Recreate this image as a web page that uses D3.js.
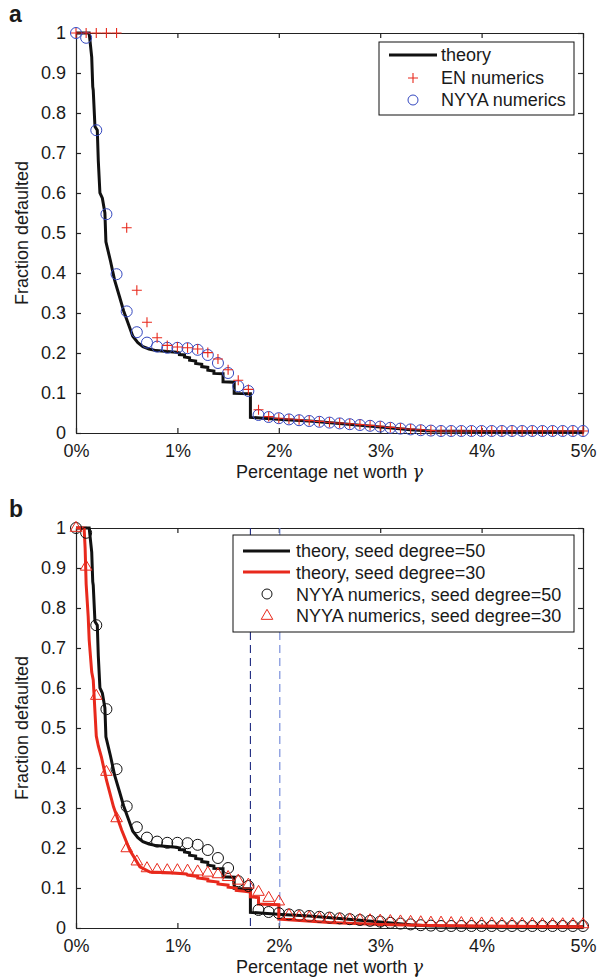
<!DOCTYPE html>
<html>
<head>
<meta charset="utf-8">
<script src="https://d3js.org/d3.v7.min.js"></script>
<style>
  body { margin: 0; background: #fff; }
  svg text { font-family: "Liberation Sans", Arial, Helvetica, sans-serif; fill: #1a1a1a; }
  .axis text { font-size: 18px; }
  .axis path, .axis line { stroke: #222; stroke-width: 1.2; }
</style>
</head>
<body>
<div class="chart"></div>
<script>
// ---- values (gamma in %, fraction defaulted) ----
var gamma = [0, 0.1, 0.2, 0.3, 0.4, 0.5, 0.6, 0.7, 0.8, 0.9,
  1.0, 1.1, 1.2, 1.3, 1.4, 1.5, 1.6, 1.7, 1.8, 1.9,
  2.0, 2.1, 2.2, 2.3, 2.4, 2.5, 2.6, 2.7, 2.8, 2.9,
  3.0, 3.1, 3.2, 3.3, 3.4, 3.5, 3.6, 3.7, 3.8, 3.9,
  4.0, 4.1, 4.2, 4.3, 4.4, 4.5, 4.6, 4.7, 4.8, 4.9, 5.0];

// EN numerics (red +), panel a
var enNumerics = [1, 1, 1, 1, 1, 0.513, 0.357, 0.277, 0.238, 0.219,
  0.215, 0.213, 0.21, 0.201, 0.185, 0.158, 0.132, 0.109, 0.058, 0.041,
  0.037, 0.035, 0.033, 0.031, 0.029, 0.027, 0.025, 0.023, 0.021, 0.019,
  0.017, 0.014, 0.012, 0.010, 0.008, 0.006, 0.005, 0.005, 0.005, 0.005,
  0.005, 0.005, 0.005, 0.005, 0.005, 0.005, 0.005, 0.005, 0.005, 0.005, 0.005];

// NYYA numerics, seed degree 50 (blue circles in a, black circles in b)
var nyya50 = [1, 0.988, 0.757, 0.547, 0.397, 0.304, 0.252, 0.226, 0.216, 0.213,
  0.213, 0.212, 0.208, 0.195, 0.175, 0.150, 0.117, 0.105, 0.045, 0.040,
  0.037, 0.034, 0.032, 0.030, 0.028, 0.026, 0.024, 0.022, 0.020, 0.018,
  0.016, 0.013, 0.011, 0.009, 0.007, 0.006, 0.005, 0.005, 0.005, 0.005,
  0.005, 0.005, 0.005, 0.005, 0.005, 0.005, 0.005, 0.005, 0.005, 0.005, 0.005];

// NYYA numerics, seed degree 30 (red triangles), panel b
var nyya30 = [1, 0.903, 0.58, 0.39, 0.274, 0.199, 0.166, 0.149, 0.145, 0.144,
  0.144, 0.143, 0.141, 0.138, 0.134, 0.127, 0.118, 0.108, 0.09, 0.075,
  0.066, 0.032, 0.028, 0.026, 0.024, 0.023, 0.022, 0.021, 0.020, 0.019,
  0.018, 0.017, 0.016, 0.015, 0.014, 0.013, 0.013, 0.012, 0.012, 0.011,
  0.011, 0.011, 0.010, 0.010, 0.010, 0.010, 0.009, 0.009, 0.009, 0.009, 0.009];

// theory curve, seed degree 50
var theory50X = [0, 0.13, 0.155, 0.165, 0.17, 0.187, 0.21, 0.22, 0.236, 0.26,
  0.285, 0.295, 0.34, 0.38, 0.43, 0.47, 0.52, 0.56, 0.61, 0.66,
  0.72, 0.79, 0.9, 0.99, 1.02, 1.02, 1.07, 1.07, 1.12, 1.12,
  1.18, 1.18, 1.24, 1.24, 1.3, 1.3, 1.36, 1.36, 1.45, 1.45,
  1.56, 1.56, 1.72, 1.72, 1.85, 2.03, 2.3, 2.6, 3.0, 3.3, 3.5, 4.0, 5.0];
var theory50Y = [1, 1, 0.94, 0.866, 0.857, 0.766, 0.757, 0.68, 0.6, 0.587,
  0.55, 0.478, 0.43, 0.383, 0.34, 0.305, 0.27, 0.242, 0.226, 0.216,
  0.21, 0.206, 0.204, 0.202, 0.2, 0.196, 0.195, 0.19, 0.188, 0.182,
  0.18, 0.174, 0.172, 0.166, 0.164, 0.157, 0.155, 0.149, 0.148, 0.128,
  0.127, 0.099, 0.098, 0.039, 0.037, 0.034, 0.03, 0.024, 0.015, 0.008, 0.005, 0.004, 0.003];

// theory curve, seed degree 30
var theory30X = [0, 0.08, 0.09, 0.1, 0.12, 0.13, 0.155, 0.17, 0.2, 0.22,
  0.25, 0.3, 0.37, 0.45, 0.53, 0.63, 0.73, 0.93, 1.09, 1.1,
  1.2, 1.2, 1.3, 1.3, 1.4, 1.4, 1.5, 1.5, 1.58, 1.58,
  1.66, 1.72, 1.72, 1.8, 1.8, 2.0, 2.0, 2.5, 3.0, 3.5, 5.0];
var theory30Y = [1, 1, 0.95, 0.86, 0.78, 0.72, 0.64, 0.62, 0.48, 0.455,
  0.428, 0.37, 0.303, 0.245, 0.195, 0.153, 0.14, 0.138, 0.135, 0.132,
  0.129, 0.125, 0.122, 0.118, 0.115, 0.11, 0.107, 0.102, 0.1, 0.094,
  0.092, 0.09, 0.078, 0.076, 0.06, 0.058, 0.022, 0.014, 0.009, 0.006, 0.003];

var xTicks = [0, 1, 2, 3, 4, 5];
var yTicks = [0, 0.1, 0.2, 0.3, 0.4, 0.5, 0.6, 0.7, 0.8, 0.9, 1];
var thresholds = [1.72, 2.01];

// dimensions
var svgWidth = 602;
var svgHeight = 978;
var left = 76;
var width = 507;
var height = 400;

var red = "#e8291c";
var blue = "#3448c0";

var svg = d3.select(".chart")
  .append("svg")
  .attr("width", svgWidth)
  .attr("height", svgHeight);

var x = d3.scaleLinear().domain([0, 5]).range([0, width]);
var y = d3.scaleLinear().domain([0, 1]).range([height, 0]);

var line = d3.line()
  .x(d => x(d[0]))
  .y(d => y(d[1]));

var plusPath = "M-5,0H5M0,-5V5";
var triangle = d3.symbol().type(d3.symbolTriangle).size(58);

function zipXY(xs, ys) {
  return xs.map((v, i) => [v, ys[i]]);
}

// box axes with inward ticks, like the original figure
function drawPanel(top, letter) {
  var g = svg.append("g").attr("transform", `translate(${left}, ${top})`);

  g.append("g").attr("class", "axis")
    .attr("transform", `translate(0, ${height})`)
    .call(d3.axisBottom(x).tickValues(xTicks).tickSize(-5).tickSizeOuter(0)
      .tickPadding(11).tickFormat(d => d + "%"));
  g.append("g").attr("class", "axis")
    .call(d3.axisTop(x).tickValues(xTicks).tickSize(-5).tickSizeOuter(0).tickFormat(""));
  g.append("g").attr("class", "axis")
    .call(d3.axisLeft(y).tickValues(yTicks).tickSize(-5).tickSizeOuter(0)
      .tickPadding(10).tickFormat(d => +d.toFixed(1)));
  g.append("g").attr("class", "axis")
    .attr("transform", `translate(${width}, 0)`)
    .call(d3.axisRight(y).tickValues(yTicks).tickSize(-5).tickSizeOuter(0).tickFormat(""));

  // axis labels
  g.append("text")
    .attr("transform", "rotate(-90)")
    .attr("x", -height / 2)
    .attr("y", 28 - left)
    .attr("text-anchor", "middle")
    .attr("font-size", 18)
    .text("Fraction defaulted");

  var xl = g.append("text")
    .attr("x", width / 2)
    .attr("y", height + 45)
    .attr("text-anchor", "middle")
    .attr("font-size", 18);
  xl.append("tspan").text("Percentage net worth ");
  xl.append("tspan").attr("font-family", "DejaVu Serif").attr("font-style", "italic").text("γ");

  svg.append("text")
    .attr("x", 9)
    .attr("y", top - 11)
    .attr("font-size", 23)
    .attr("font-weight", "bold")
    .text(letter);

  return g;
}

// ---------- panel a ----------
var ga = drawPanel(33, "a");

ga.append("path")
  .datum(zipXY(theory50X, theory50Y))
  .attr("fill", "none")
  .attr("stroke", "#111")
  .attr("stroke-width", 3)
  .attr("d", line);

ga.selectAll(".nyya").data(nyya50).enter()
  .append("circle")
  .attr("cx", (d, i) => x(gamma[i]))
  .attr("cy", d => y(d))
  .attr("r", 5.5)
  .attr("fill", "none")
  .attr("stroke", blue)
  .attr("stroke-width", 1);

ga.selectAll(".en").data(enNumerics).enter()
  .append("path")
  .attr("transform", (d, i) => `translate(${x(gamma[i])}, ${y(d)})`)
  .attr("d", plusPath)
  .attr("stroke", red)
  .attr("stroke-width", 1.1);

// legend a
var la = svg.append("g").attr("transform", "translate(379, 42)");
la.append("rect").attr("width", 195).attr("height", 73)
  .attr("fill", "#fff").attr("stroke", "#111").attr("stroke-width", 1);
la.append("line").attr("x1", 10).attr("x2", 58).attr("y1", 13).attr("y2", 13)
  .attr("stroke", "#111").attr("stroke-width", 3);
la.append("path").attr("transform", "translate(34, 36)").attr("d", plusPath)
  .attr("stroke", red).attr("stroke-width", 1.1);
la.append("circle").attr("cx", 34).attr("cy", 58).attr("r", 5)
  .attr("fill", "none").attr("stroke", blue);
["theory", "EN numerics", "NYYA numerics"].forEach(function(t, i) {
  la.append("text").attr("x", 62).attr("y", 13 + i * 22.5).attr("dy", "0.35em")
    .attr("font-size", 18).text(t);
});

// ---------- panel b ----------
var gb = drawPanel(528, "b");

gb.selectAll(".thr").data(thresholds).enter()
  .append("line")
  .attr("x1", d => x(d)).attr("x2", d => x(d))
  .attr("y1", y(1)).attr("y2", y(0))
  .attr("stroke", (d, i) => i === 0 ? "#1f2a80" : "#6f86d8")
  .attr("stroke-width", 1.1)
  .attr("stroke-dasharray", "8,5");

gb.append("path")
  .datum(zipXY(theory50X, theory50Y))
  .attr("fill", "none")
  .attr("stroke", "#111")
  .attr("stroke-width", 3)
  .attr("d", line);

gb.append("path")
  .datum(zipXY(theory30X, theory30Y))
  .attr("fill", "none")
  .attr("stroke", red)
  .attr("stroke-width", 3)
  .attr("d", line);

gb.selectAll(".c50").data(nyya50).enter()
  .append("circle")
  .attr("cx", (d, i) => x(gamma[i]))
  .attr("cy", d => y(d))
  .attr("r", 5.5)
  .attr("fill", "none")
  .attr("stroke", "#111")
  .attr("stroke-width", 1);

gb.selectAll(".t30").data(nyya30).enter()
  .append("path")
  .attr("transform", (d, i) => `translate(${x(gamma[i])}, ${y(d)})`)
  .attr("d", triangle)
  .attr("fill", "none")
  .attr("stroke", red)
  .attr("stroke-width", 1);

// legend b
var lb = svg.append("g").attr("transform", "translate(233, 535)");
lb.append("rect").attr("width", 341).attr("height", 97)
  .attr("fill", "#fff").attr("stroke", "#111").attr("stroke-width", 1);
lb.append("line").attr("x1", 10).attr("x2", 57).attr("y1", 16).attr("y2", 16)
  .attr("stroke", "#111").attr("stroke-width", 3);
lb.append("line").attr("x1", 10).attr("x2", 57).attr("y1", 37).attr("y2", 37)
  .attr("stroke", red).attr("stroke-width", 3);
lb.append("circle").attr("cx", 34).attr("cy", 59).attr("r", 5)
  .attr("fill", "none").attr("stroke", "#111");
lb.append("path").attr("transform", "translate(34, 81)").attr("d", triangle)
  .attr("fill", "none").attr("stroke", red);
["theory, seed degree=50", "theory, seed degree=30",
 "NYYA numerics, seed degree=50", "NYYA numerics, seed degree=30"].forEach(function(t, i) {
  lb.append("text").attr("x", 63).attr("y", 16 + i * 21.7).attr("dy", "0.35em")
    .attr("font-size", 18).text(t);
});
</script>
</body>
</html>
